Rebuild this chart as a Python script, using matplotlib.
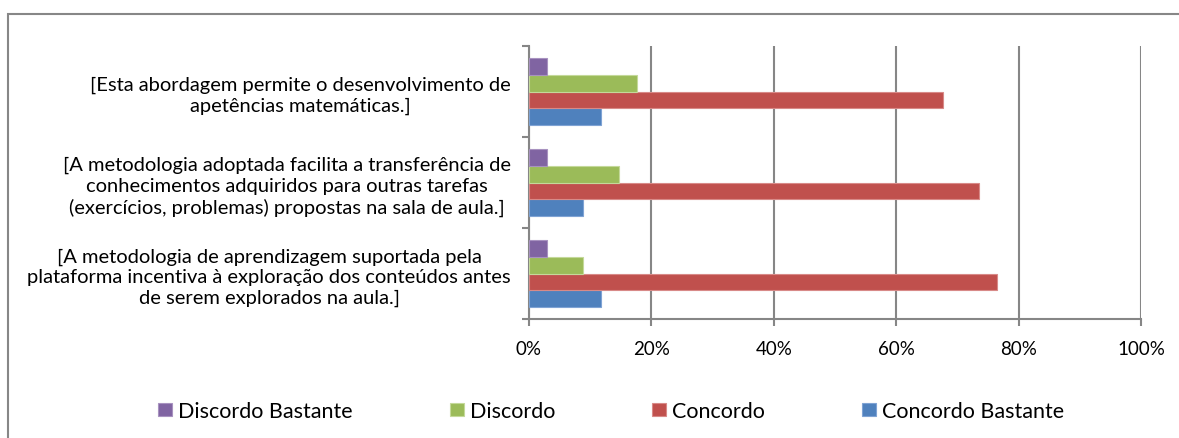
import matplotlib
matplotlib.use("Agg")
import matplotlib.pyplot as plt
import numpy as np
from matplotlib.patches import Rectangle
from matplotlib.ticker import PercentFormatter

plt.rcParams['font.family'] = ['Lato', 'DejaVu Sans']

categories = [
    "[A metodologia de aprendizagem suportada pela\nplataforma incentiva à exploração dos conteúdos antes\nde serem explorados na aula.]",
    "[A metodologia adoptada facilita a transferência de\nconhecimentos adquiridos para outras tarefas\n(exercícios, problemas) propostas na sala de aula.]",
    "[Esta abordagem permite o desenvolvimento de\napetências matemáticas.]",
]
series_names = ["Concordo Bastante", "Concordo", "Discordo", "Discordo Bastante"]
concordo_bastante = [11.8, 8.8, 11.8]
concordo = [76.5, 73.5, 67.6]
discordo = [8.8, 14.7, 17.6]
discordo_bastante = [2.9, 2.9, 2.9]
x_ticks = [0, 20, 40, 60, 80, 100]

colors = {
    "Concordo Bastante": "#4F81BD",
    "Concordo": "#C0504D",
    "Discordo": "#9BBB59",
    "Discordo Bastante": "#8064A2",
}
edges = {
    "Concordo Bastante": "#7FA3D4",
    "Concordo": "#D88A88",
    "Discordo": "#C4D99A",
    "Discordo Bastante": "#A892C0",
}
values = [concordo_bastante, concordo, discordo, discordo_bastante]

fig = plt.figure(figsize=(11.79, 4.39), dpi=100)
fig.patches.append(Rectangle((8 / 1179, -0.05), 1.2, (439 - 15) / 439 + 0.05,
                             transform=fig.transFigure, fill=False,
                             edgecolor="#878787", linewidth=1.5, zorder=0))
ax = fig.add_axes([529 / 1179, 1 - 320 / 439, (1141 - 529) / 1179, (320 - 47) / 439])

y = np.arange(len(categories))
h = 1 / 5.5
offsets = [-1.5 * h, -0.5 * h, 0.5 * h, 1.5 * h]
bars = []
for name, vals, off in zip(series_names, values, offsets):
    b = ax.barh(y + off, vals, height=h, color=colors[name], edgecolor=edges[name],
                linewidth=0.8, label=name, zorder=3)
    bars.append(b)

ax.set_xlim(0, 100)
ax.set_ylim(-0.5, 2.5)
ax.set_xticks(x_ticks)
ax.xaxis.set_major_formatter(PercentFormatter(decimals=0))
ax.set_yticks(y)
ax.set_yticklabels(categories, fontsize=14.5)
for lab in ax.get_yticklabels():
    lab.set_multialignment('center')
    lab.set_linespacing(1.25)
ax.set_yticks([-0.5, 0.5, 1.5, 2.5], minor=True)
ax.tick_params(axis='y', which='major', length=0, pad=13)
ax.tick_params(axis='y', which='minor', length=5, width=1.5, color="#868686")
ax.tick_params(axis='x', length=5, width=1.5, color="#868686", pad=10, labelsize=13.5)
ax.grid(axis='x', color="#868686", linewidth=1.5, zorder=1)
for s in ['top', 'right']:
    ax.spines[s].set_visible(False)
for s in ['left', 'bottom']:
    ax.spines[s].set_color("#868686")
    ax.spines[s].set_linewidth(1.5)

handles = [bars[3], bars[2], bars[1], bars[0]]
labels = ["Discordo Bastante", "Discordo", "Concordo", "Concordo Bastante"]
fig.legend(handles, labels, loc='center', bbox_to_anchor=(611 / 1179, 1 - 412 / 439),
           ncol=4, frameon=False, fontsize=15.5, handlelength=0.65, handleheight=0.6,
           handletextpad=0.28, columnspacing=4.5)

fig.savefig("out.png", dpi=100)
